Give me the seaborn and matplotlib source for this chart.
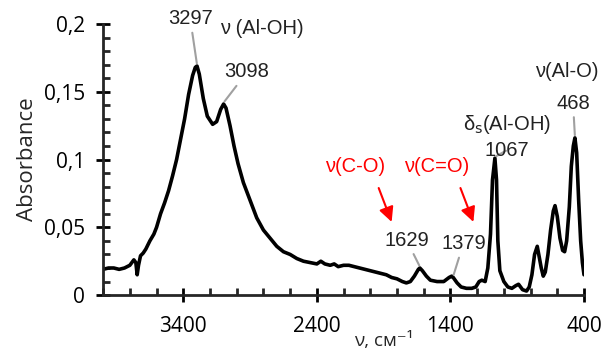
import numpy as np
import pandas as pd
import seaborn as sns
import matplotlib.pyplot as plt
from matplotlib.ticker import MultipleLocator, FuncFormatter

# IR spectrum
wavenumber = [4000, 3960, 3920, 3880, 3840, 3800, 3770, 3755, 3745, 3735, 3720, 3700,
              3680, 3650, 3620, 3600, 3570, 3540, 3510, 3480, 3450, 3420, 3390, 3360,
              3330, 3310, 3297, 3280, 3250, 3220, 3180, 3150, 3120, 3098, 3080, 3050,
              3020, 2990, 2950, 2900, 2850, 2800, 2750, 2700, 2650, 2600, 2550, 2500,
              2450, 2400, 2370, 2340, 2300, 2270, 2240, 2200, 2160, 2120, 2080, 2040,
              2000, 1960, 1920, 1880, 1840, 1800, 1760, 1730, 1700, 1670, 1640, 1629,
              1610, 1580, 1550, 1500, 1450, 1410, 1390, 1379, 1350, 1320, 1280, 1240,
              1210, 1185, 1165, 1140, 1120, 1100, 1085, 1067, 1055, 1045, 1030, 1000,
              970, 940, 910, 890, 860, 830, 810, 790, 770, 750, 735, 720, 705, 690,
              670, 650, 630, 617, 600, 580, 560, 545, 530, 510, 495, 480, 468, 455,
              440, 425, 412, 400]
absorbance = [0.019, 0.020, 0.020, 0.019, 0.020, 0.022, 0.026, 0.024, 0.015, 0.022, 0.029, 0.031,
              0.034, 0.040, 0.045, 0.050, 0.060, 0.068, 0.077, 0.088, 0.100, 0.115, 0.130, 0.148,
              0.162, 0.168, 0.169, 0.163, 0.145, 0.132, 0.126, 0.128, 0.137, 0.141, 0.138, 0.125,
              0.110, 0.097, 0.083, 0.070, 0.057, 0.048, 0.042, 0.036, 0.032, 0.030, 0.027, 0.025,
              0.024, 0.023, 0.025, 0.023, 0.022, 0.023, 0.021, 0.022, 0.022, 0.021, 0.020, 0.019,
              0.018, 0.017, 0.016, 0.015, 0.013, 0.012, 0.010, 0.009, 0.010, 0.014, 0.019, 0.020,
              0.018, 0.014, 0.011, 0.010, 0.010, 0.013, 0.014, 0.013, 0.009, 0.006, 0.005, 0.005,
              0.006, 0.010, 0.011, 0.010, 0.020, 0.045, 0.085, 0.101, 0.085, 0.040, 0.018, 0.010,
              0.006, 0.005, 0.007, 0.008, 0.004, 0.003, 0.006, 0.015, 0.030, 0.036, 0.028, 0.020, 0.014, 0.017,
              0.030, 0.048, 0.062, 0.066, 0.058, 0.042, 0.033, 0.032, 0.040, 0.065, 0.095, 0.110, 0.116, 0.105,
              0.070, 0.040, 0.024, 0.015]

# peak labels: (wavenumber, label position x, label position y)
peak_pos = [3297, 3098, 1629, 1379, 1067, 468]
peak_text_x = [3348, 2922, 1728, 1303, 975, 482]
peak_text_y = [0.204, 0.1646, 0.0406, 0.038, 0.107, 0.1417]

band_labels = ["ν (Al-OH)", "δ$_\\mathrm{s}$(Al-OH)", "ν(Al-O)"]
band_x = [2810, 975, 527]
band_y = [0.197, 0.126, 0.1646]

red_labels = ["ν(C-O)", "ν(C=O)"]
red_x = [2116, 1504]
red_y = [0.095, 0.095]

df = pd.DataFrame({"wn": wavenumber, "A": absorbance})

sns.set_style("ticks")
plt.rcParams['font.family'] = ['Open Sans', 'DejaVu Sans']

fig = plt.figure(figsize=(6.03, 3.53), dpi=100)
ax = fig.add_axes([0.171, 0.164, 0.7975, 0.768])

sns.lineplot(data=df, x="wn", y="A", ax=ax, color="black", lw=2.6, sort=False)

ax.set_xlim(4000, 400)
ax.set_ylim(0, 0.2)
ax.xaxis.set_major_locator(MultipleLocator(1000, offset=400))
ax.xaxis.set_minor_locator(MultipleLocator(200))
ax.yaxis.set_major_locator(MultipleLocator(0.05))
ax.yaxis.set_minor_locator(MultipleLocator(0.01))
ax.yaxis.set_major_formatter(FuncFormatter(lambda v, p: ("%g" % round(v, 3)).replace(".", ",")))
ax.xaxis.set_major_formatter(FuncFormatter(lambda v, p: "%d" % v))

for s in ["top", "right"]:
    ax.spines[s].set_visible(False)
for s in ["left", "bottom"]:
    ax.spines[s].set_linewidth(2)
ax.tick_params(which="major", direction="inout", length=10, width=2, labelsize=15, colors="black")
ax.tick_params(which="minor", direction="in", length=5, width=2)
ax.tick_params(axis="x", pad=10)
ax.tick_params(axis="y", pad=8)

ax.set_xlabel("ν, см⁻¹", fontsize=13.5, va="center")
ax.xaxis.set_label_coords(0.584, -0.17)
ax.set_ylabel("Absorbance", fontsize=16, labelpad=4)

lookup = dict(zip(wavenumber, absorbance))
for p, tx, ty in zip(peak_pos, peak_text_x, peak_text_y):
    ax.annotate(str(p), xy=(p, lookup[p] + 0.001), xytext=(tx, ty),
                ha="center", va="center", fontsize=14.5, family="Liberation Sans",
                color="#222222", annotation_clip=False,
                arrowprops=dict(arrowstyle="-", color="#a0a0a0", lw=1.5,
                                shrinkA=1, shrinkB=1))

for t, x, y in zip(band_labels, band_x, band_y):
    ax.text(x, y, t, ha="center", va="center", fontsize=14.5,
            family="Liberation Sans", color="#222222", clip_on=False)

for t, x, y in zip(red_labels, red_x, red_y):
    ax.text(x, y, t, ha="center", va="center", fontsize=14.5,
            family="Liberation Sans", color="red")
    ax.annotate("", xy=(x - 276, y - 0.041), xytext=(x - 179, y - 0.016),
                arrowprops=dict(arrowstyle="-|>", color="red", lw=1.5,
                                mutation_scale=22, shrinkA=0, shrinkB=0))

fig.savefig("out.png", dpi=100)
